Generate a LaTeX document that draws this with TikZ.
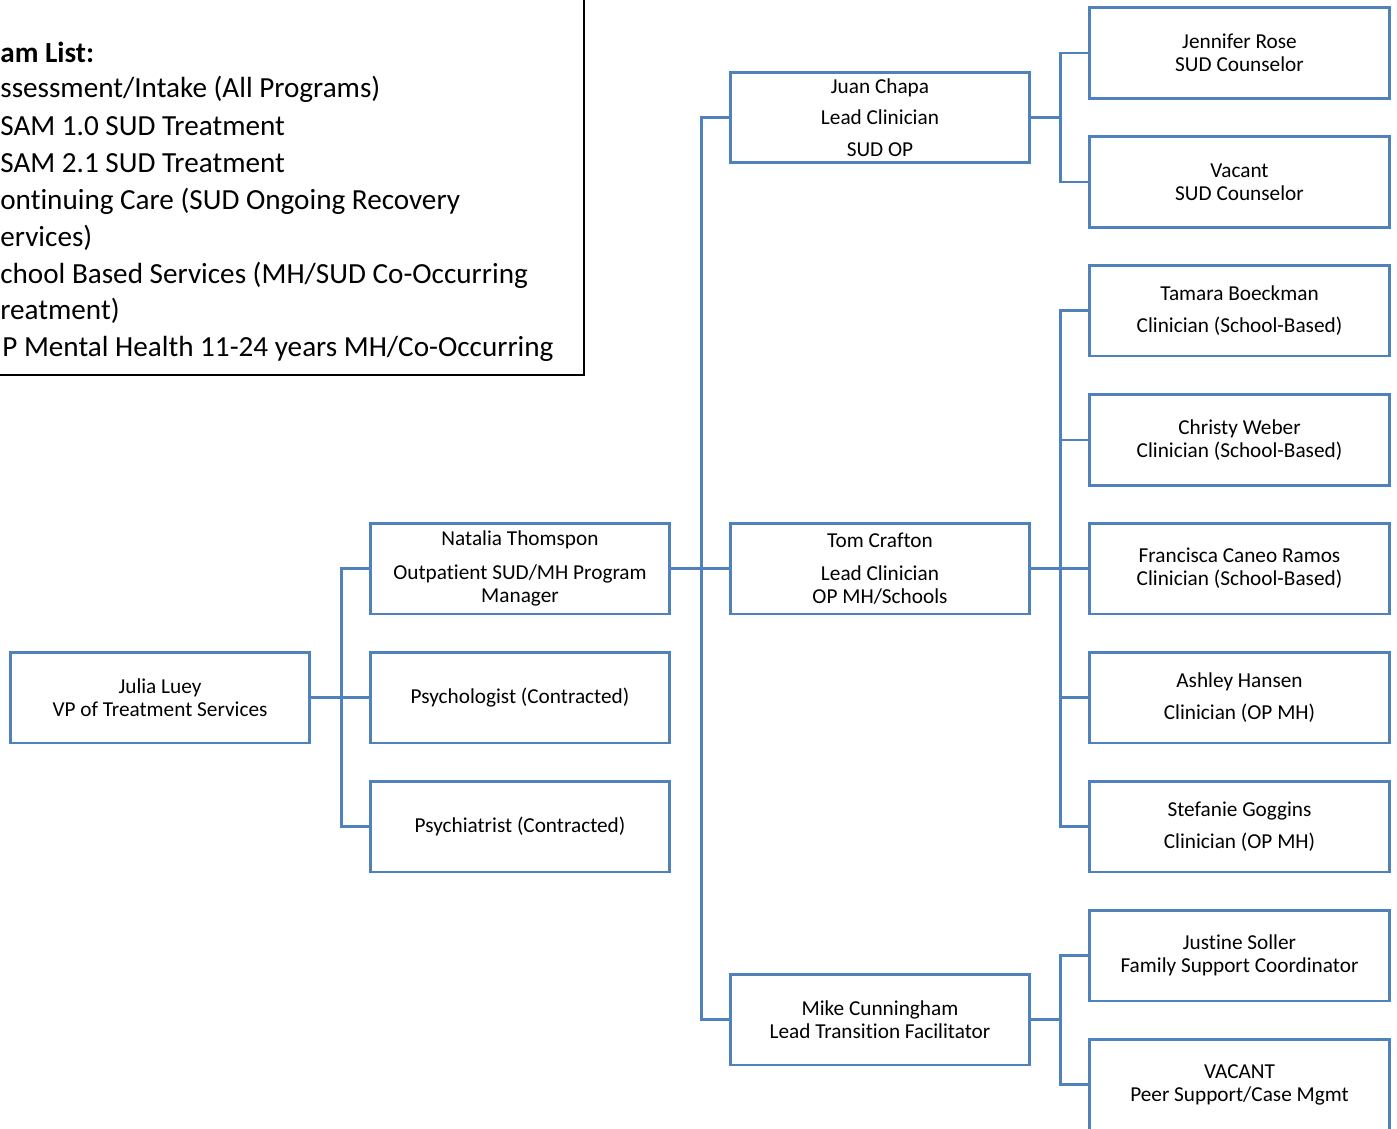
\documentclass[tikz,border=0pt]{standalone}
\usepackage{fontspec}
\setmainfont{Carlito}[Ligatures=NoCommon, RawFeature=-liga]
\definecolor{chartblue}{HTML}{4F81BD}

\begin{document}
\begin{tikzpicture}[x=0.02cm,y=-0.02cm]

	\tikzstyle{person} = [rectangle, minimum width=6cm, minimum height=1.82cm, align=center, draw=chartblue, line width=1.7pt, font=\fontsize{12.1}{13}\selectfont, inner sep=2pt]
	\tikzstyle{link} = [draw=chartblue, line width=1.7pt]
	\tikzstyle{listline} = [anchor=base west, inner sep=0pt, font=\fontsize{16.6}{21}\selectfont]

	\useasboundingbox (0,0) rectangle (1397,1129);
	\clip (0,0) rectangle (1397,1129);

	% program list (cut off at the left)
	\draw[line width=1.1pt] (-20,-20) rectangle (584,375);
	\node (proghead) [listline, font=\fontsize{16.6}{21}\selectfont\bfseries] at (0,62) {am List:};
	\node (prog1) [listline] at (0,97.5) {ssessment/Intake (All Programs)};
	\node (prog2) [listline] at (0,135.5) {SAM 1.0 SUD Treatment};
	\node (prog3) [listline] at (0,172.5) {SAM 2.1 SUD Treatment};
	\node (prog4) [listline] at (0,209.5) {ontinuing Care (SUD Ongoing Recovery};
	\node (prog5) [listline] at (0,246) {ervices)};
	\node (prog6) [listline] at (0,283.5) {chool Based Services (MH/SUD Co-Occurring};
	\node (prog7) [listline] at (0,319.5) {reatment)};
	\node (prog8) [listline] at (2,356) {P Mental Health 11-24 years MH/Co-Occurring};

	% people
	\node (julia) [person] at (160,697.5) {Julia Luey\\VP of Treatment Services};
	\node (natalia) [person] at (520,568.5) {Natalia Thomspon\\[6.5pt]Outpatient SUD/MH Program\\Manager};
	\node (psychologist) [person] at (520,697.5) {Psychologist (Contracted)};
	\node (psychiatrist) [person] at (520,826.5) {Psychiatrist (Contracted)};
	\node (juan) [person] at (880,117.5) {Juan Chapa\\[5pt]Lead Clinician\\[5pt]SUD OP};
	\node (tom) [person] at (880,568.5) {Tom Crafton\\[6pt]Lead Clinician\\OP MH/Schools};
	\node (mike) [person] at (880,1019.5) {Mike Cunningham\\Lead Transition Facilitator};
	\node (jennifer) [person] at (1239.5,53) {Jennifer Rose\\SUD Counselor};
	\node (vacant) [person] at (1239.5,182) {Vacant\\SUD Counselor};
	\node (tamara) [person] at (1239.5,310.5) {Tamara Boeckman\\[5pt]Clinician (School-Based)};
	\node (christy) [person] at (1239.5,440) {Christy Weber\\Clinician (School-Based)};
	\node (francisca) [person] at (1239.5,568.5) {Francisca Caneo Ramos\\Clinician (School-Based)};
	\node (ashley) [person] at (1239.5,697.5) {Ashley Hansen\\[5pt]Clinician (OP MH)};
	\node (stefanie) [person] at (1239.5,826.5) {Stefanie Goggins\\[5pt]Clinician (OP MH)};
	\node (justine) [person] at (1239.5,955.5) {Justine Soller\\Family Support Coordinator};
	\node (peer) [person] at (1239.5,1084.5) {VACANT\\Peer Support/Case Mgmt};

	% connectors
	\draw[link] (julia.east) -- ++(30,0) coordinate (juliabus);
	\draw[link] (juliabus) |- (natalia.west);
	\draw[link] (juliabus) |- (psychologist.west);
	\draw[link] (juliabus) |- (psychiatrist.west);

	\draw[link] (natalia.east) -- ++(30,0) coordinate (nataliabus);
	\draw[link] (nataliabus) |- (juan.west);
	\draw[link] (nataliabus) |- (tom.west);
	\draw[link] (nataliabus) |- (mike.west);

	\draw[link] (juan.east) -- ++(29.5,0) coordinate (juanbus);
	\draw[link] (juanbus) |- (jennifer.west);
	\draw[link] (juanbus) |- (vacant.west);

	\draw[link] (tom.east) -- ++(29.5,0) coordinate (tombus);
	\draw[link] (tombus) |- (tamara.west);
	\draw[link] (tombus) |- (christy.west);
	\draw[link] (tombus) |- (francisca.west);
	\draw[link] (tombus) |- (ashley.west);
	\draw[link] (tombus) |- (stefanie.west);

	\draw[link] (mike.east) -- ++(29.5,0) coordinate (mikebus);
	\draw[link] (mikebus) |- (justine.west);
	\draw[link] (mikebus) |- (peer.west);

\end{tikzpicture}
\end{document}
